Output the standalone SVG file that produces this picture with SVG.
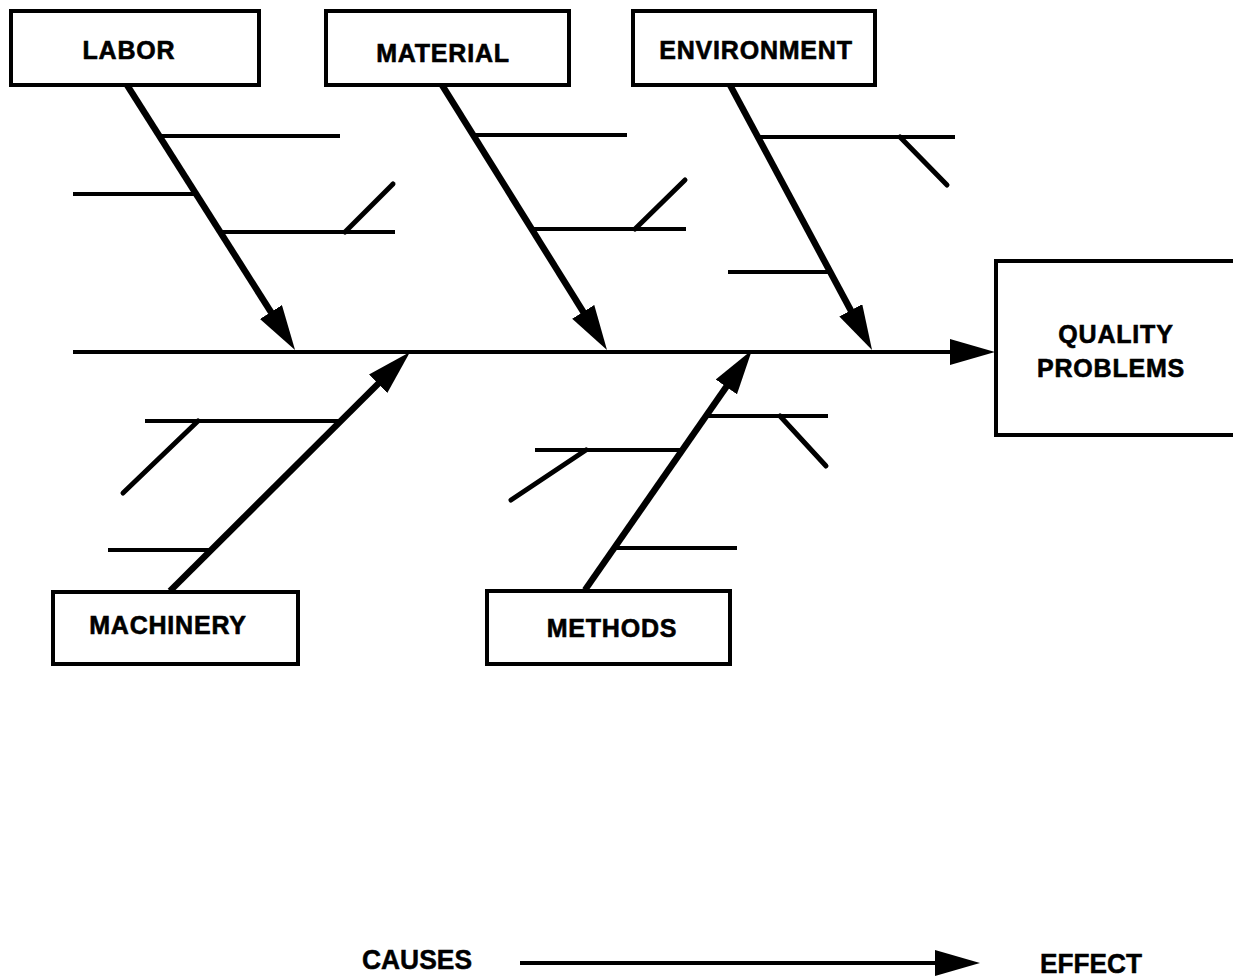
<svg xmlns="http://www.w3.org/2000/svg" width="1233" height="977" viewBox="0 0 1233 977">
<style>
.box{fill:#fff;stroke:#000;stroke-width:4}
.lbl{font-family:"Liberation Sans",Arial,sans-serif;font-weight:bold;font-size:25px;letter-spacing:0.8px;text-anchor:middle;fill:#000;stroke:#000;stroke-width:0.6}
.bone{stroke:#000;stroke-width:6.5;fill:none}
.sub{stroke:#000;stroke-width:4;fill:none;stroke-linecap:butt}
.diag{stroke:#000;stroke-width:5;fill:none;stroke-linecap:round}
.spine{stroke:#000;stroke-width:4;fill:none}
.leg{font-family:"Liberation Sans",Arial,sans-serif;font-weight:bold;font-size:28px;fill:#000;stroke:#000;stroke-width:0.5}
</style>
<defs>
<marker id="ah" markerUnits="userSpaceOnUse" markerWidth="50" markerHeight="30" refX="10" refY="13" orient="auto">
<path d="M0,0 L45,13 L0,26 z" fill="#000"/>
</marker>
</defs>
<rect width="1233" height="977" fill="#fff"/>
<g id="connectors">
<line class="spine" x1="73" y1="352" x2="960" y2="352" marker-end="url(#ah)"/>
<line class="bone" x1="127" y1="85" x2="276.3" y2="320.5" marker-end="url(#ah)"/>
<line class="bone" x1="442" y1="85" x2="588.5" y2="320.3" marker-end="url(#ah)"/>
<line class="bone" x1="730" y1="85" x2="855.5" y2="319.1" marker-end="url(#ah)"/>
<line class="bone" x1="170" y1="591" x2="385.2" y2="376.7" marker-end="url(#ah)"/>
<line class="bone" x1="585" y1="590" x2="732" y2="378.7" marker-end="url(#ah)"/>
<line class="sub" x1="159" y1="136" x2="340" y2="136"/>
<line class="sub" x1="73" y1="194" x2="196" y2="194"/>
<line class="sub" x1="220" y1="232" x2="395" y2="232"/>
<line class="diag" x1="345" y1="232" x2="393" y2="184"/>
<line class="sub" x1="473" y1="135" x2="627" y2="135"/>
<line class="sub" x1="532" y1="229" x2="686" y2="229"/>
<line class="diag" x1="635" y1="229" x2="685" y2="180"/>
<line class="sub" x1="758" y1="137" x2="955" y2="137"/>
<line class="diag" x1="900" y1="137" x2="947" y2="185"/>
<line class="sub" x1="728" y1="272" x2="830" y2="272"/>
<line class="sub" x1="145" y1="421" x2="341" y2="421"/>
<line class="diag" x1="198" y1="421" x2="123" y2="493"/>
<line class="sub" x1="108" y1="550" x2="211" y2="550"/>
<line class="sub" x1="706" y1="416" x2="828" y2="416"/>
<line class="diag" x1="780" y1="416" x2="826" y2="466"/>
<line class="sub" x1="535" y1="450" x2="682" y2="450"/>
<line class="diag" x1="586" y1="450" x2="511" y2="500"/>
<line class="sub" x1="614" y1="548" x2="737" y2="548"/>
<line class="spine" x1="520" y1="963" x2="945" y2="963" stroke-width="5" marker-end="url(#ah)"/>
</g>
<g id="labor"><rect class="box" x="11" y="11" width="248" height="74"/><text class="lbl" x="129" y="59">LABOR</text></g>
<g id="material"><rect class="box" x="326" y="11" width="243" height="74"/><text class="lbl" x="443" y="62">MATERIAL</text></g>
<g id="environment"><rect class="box" x="633" y="11" width="242" height="74"/><text class="lbl" x="756" y="59">ENVIRONMENT</text></g>
<g id="quality"><rect class="box" x="996" y="261" width="240" height="174"/><text class="lbl" x="1116" y="343">QUALITY</text><text class="lbl" x="1111" y="377">PROBLEMS</text></g>
<g id="machinery"><rect class="box" x="53" y="592" width="245" height="72"/><text class="lbl" x="168" y="634">MACHINERY</text></g>
<g id="methods"><rect class="box" x="487" y="591" width="243" height="73"/><text class="lbl" x="612" y="637">METHODS</text></g>
<g id="legend">
<text class="leg" x="362" y="969" textLength="110" lengthAdjust="spacingAndGlyphs">CAUSES</text>
<text class="leg" x="1040" y="973" textLength="102" lengthAdjust="spacingAndGlyphs">EFFECT</text>
</g>
</svg>
